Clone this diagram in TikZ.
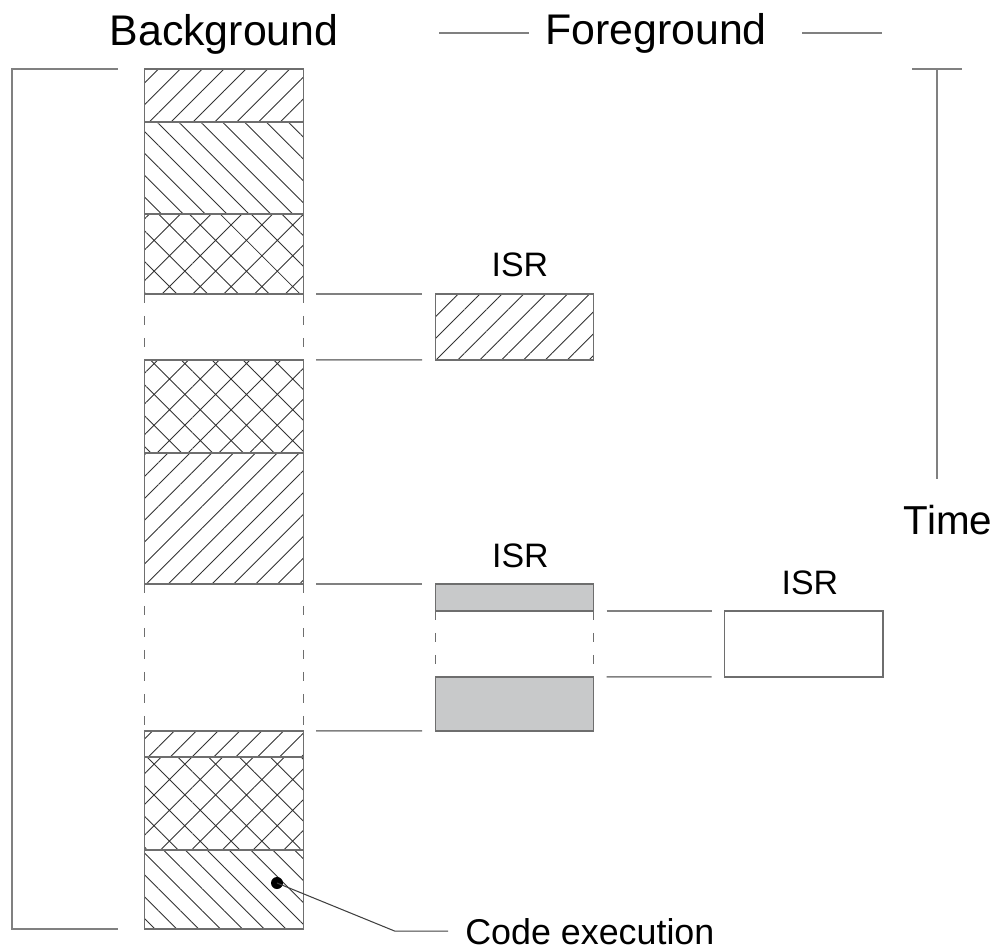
\documentclass[tikz,border=0pt]{standalone}
\usepackage{fontspec}
\setmainfont{Liberation Sans}
\usetikzlibrary{positioning, patterns.meta}
\definecolor{isrgray}{RGB}{200,201,202}
\definecolor{edgegray}{RGB}{110,110,110}
\definecolor{linkgray}{RGB}{128,128,128}
\tikzstyle{slice} = [rectangle, minimum width=3.17cm, inner sep=0pt, outer sep=0pt, draw=edgegray, line width=0.8pt]
\tikzstyle{neslice} = [slice, pattern={Lines[angle=45, distance=8.8pt, line width=0.5pt]}, pattern color=black!80]
\tikzstyle{nwslice} = [slice, pattern={Lines[angle=-45, distance=8.8pt, line width=0.5pt]}, pattern color=black!80]
\tikzstyle{xslice} = [slice, pattern={Hatch[angle=45, distance=12.4pt, line width=0.5pt]}, pattern color=black!80]
\tikzstyle{isrslice} = [slice, fill=isrgray]
\tikzstyle{halt} = [draw=edgegray, line width=0.8pt, dash pattern=on 0.18cm off 0.26cm]
\tikzstyle{link} = [draw=linkgray, line width=0.9pt]
\tikzstyle{heading} = [inner sep=0pt, anchor=base, font=\fontsize{24.4pt}{29pt}\selectfont]
\tikzstyle{caption} = [inner sep=0pt, anchor=base, font=\fontsize{19.3pt}{23pt}\selectfont]
\begin{document}
\begin{tikzpicture}[x=0.02cm, y=-0.02cm]
\useasboundingbox (0,0) rectangle (1000,949);
% background column
\node (bg1) [neslice, minimum height=1.06cm] at (224,95.5) {};
\node (bg2) [nwslice, minimum height=1.84cm, below=0pt of bg1] {};
\node (bg3) [xslice, minimum height=1.60cm, below=0pt of bg2] {};
\node (bg4) [xslice, minimum height=1.86cm, below=1.32cm of bg3] {};
\node (bg5) [neslice, minimum height=2.62cm, below=0pt of bg4] {};
\node (bg6) [neslice, minimum height=0.52cm, below=2.94cm of bg5] {};
\node (bg7) [xslice, minimum height=1.86cm, below=0pt of bg6] {};
\node (bg8) [nwslice, minimum height=1.58cm, below=0pt of bg7] {};

% foreground
\node (isr1) [neslice, minimum height=1.32cm, anchor=north west] at ([xshift=2.64cm]bg3.south east) {};
\node (isr2a) [isrslice, minimum height=0.54cm, anchor=north west] at ([xshift=2.64cm]bg5.south east) {};
\node (isr2b) [isrslice, minimum height=1.08cm, below=1.32cm of isr2a] {};
\node (isr3) [slice, minimum height=1.32cm, anchor=north west] at ([xshift=2.62cm]isr2a.south east) {};

\node (bgtitle) [heading] at ([yshift=0.48cm]bg1.north) {Background};
\node (fgtitle) [heading] at (656,45) {Foreground};
\node (isr1txt) [caption] at ([xshift=0.11cm,yshift=0.34cm]isr1.north) {ISR};
\node (isr2txt) [caption] at ([xshift=0.12cm,yshift=0.33cm]isr2a.north) {ISR};
\node (isr3txt) [caption] at ([xshift=0.12cm,yshift=0.33cm]isr3.north) {ISR};
\node (timetxt) [heading, font=\fontsize{23pt}{28pt}\selectfont] at (948,534) {Time};
\node (codetxt) [caption, anchor=base west, font=\fontsize{20.4pt}{24pt}\selectfont] at (465,944) {Code execution};

% interrupted parts
\draw[halt] (bg3.south west) -- (bg4.north west) (bg3.south east) -- (bg4.north east);
\draw[halt] (bg5.south west) -- (bg6.north west) (bg5.south east) -- (bg6.north east);
\draw[halt] (isr2a.south west) -- (isr2b.north west) (isr2a.south east) -- (isr2b.north east);

\draw[link] ([xshift=0.26cm]bg3.south east) -- ([xshift=-0.26cm]isr1.north west);
\draw[link] ([xshift=0.26cm]bg4.north east) -- ([xshift=-0.26cm]isr1.south west);
\draw[link] ([xshift=0.26cm]bg5.south east) -- ([xshift=-0.26cm]isr2a.north west);
\draw[link] ([xshift=0.26cm]bg6.north east) -- ([xshift=-0.26cm]isr2b.south west);
\draw[link] ([xshift=0.26cm]isr2a.south east) -- ([xshift=-0.26cm]isr3.north west);
\draw[link] ([xshift=0.26cm]isr2b.north east) -- ([xshift=-0.26cm]isr3.south west);

% bracket, header lines, time axis
\draw[link] ([xshift=-0.54cm]bg1.north west) -- ++(-2.12cm,0) |- ([xshift=-0.54cm]bg8.south west);
\draw[link] ([xshift=-0.32cm,yshift=0.24cm]fgtitle.base west) -- ++(-1.8cm,0);
\draw[link] ([xshift=0.7cm,yshift=0.24cm]fgtitle.base east) -- ++(1.6cm,0);
\coordinate (ttop) at (937,69);
\coordinate (tend) at (937,479);
\draw[link] ([xshift=-0.5cm]ttop) -- ([xshift=0.5cm]ttop) (ttop) -- (tend);

% code execution pointer
\coordinate (dot) at (277,883);
\fill (dot) circle (0.12cm);
\draw[black!75, line width=0.6pt] (dot) -- ([xshift=-1.4cm]codetxt.west) -- ([xshift=-0.34cm]codetxt.west);
\end{tikzpicture}
\end{document}
